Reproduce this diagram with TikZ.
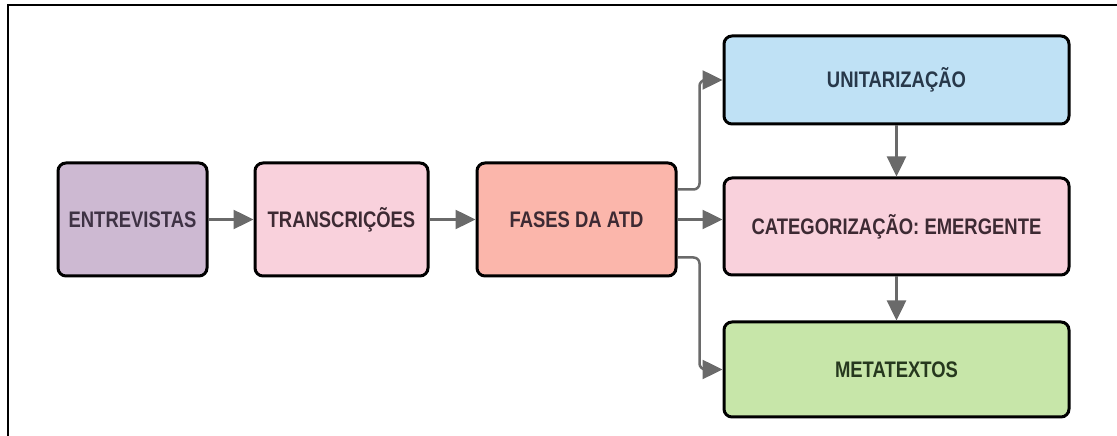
\documentclass[tikz,border=0pt]{standalone}
\usepackage{fontspec}
\setmainfont{Liberation Sans}[FakeStretch=0.82]
\usetikzlibrary{arrows.meta,positioning}

\definecolor{lilac}{HTML}{CDB9D2}
\definecolor{rosa}{HTML}{F9D1DC}
\definecolor{salmao}{HTML}{FBB6AB}
\definecolor{celeste}{HTML}{BFE1F5}
\definecolor{verde}{HTML}{C7E6A9}
\definecolor{seta}{HTML}{6A6A6A}
\definecolor{txtroxo}{HTML}{3E3244}
\definecolor{txtrosa}{HTML}{3D2A33}
\definecolor{txtazul}{HTML}{27384A}
\definecolor{txtverde}{HTML}{26381E}

\begin{document}
\begin{tikzpicture}[
x=1pt,y=1pt,
>={Triangle[length=20pt,width=19pt]},
box/.style={
	draw=black,
	line width=3pt,
	rounded corners=8pt,
	inner sep=0pt,
	font=\fontsize{22.5}{26}\selectfont\bfseries,
	text=txtrosa
},
flow/.style={
	->,
	draw=seta,
	line width=2.5pt,
	rounded corners=6pt
}
]
\useasboundingbox (0,0) rectangle (1117,436);
\draw[line width=1.5pt] (8,0) -- (8,431) -- (1117,431);

\node[box,fill=lilac,minimum width=149pt,minimum height=113pt,text=txtroxo] (entrevistas) at (132.5,216.5) {ENTREVISTAS};
\node[box,fill=rosa,minimum width=173pt,minimum height=113pt] (transcricoes) at (341.5,216.5) {TRANSCRIÇÕES};
\node[box,fill=salmao,minimum width=199pt,minimum height=113pt] (fases) at (576.5,216.5) {FASES DA ATD};

\node[box,fill=celeste,minimum width=345pt,minimum height=88pt,text=txtazul] (unit) at (896.5,356) {UNITARIZAÇÃO};
\node[box,fill=rosa,minimum width=345pt,minimum height=97pt] (categ) at (896.5,209.5) {CATEGORIZAÇÃO: EMERGENTE};
\node[box,fill=verde,minimum width=345pt,minimum height=95pt,text=txtverde] (meta) at (896.5,66.5) {METATEXTOS};

\draw[flow] (entrevistas) -- (transcricoes);
\draw[flow] (transcricoes) -- (fases);
\draw[flow] (fases.east) -- (fases.east -| categ.west);
\draw[flow] ([yshift=30pt]fases.east) -- ++(22,0) |- (unit.west);
\draw[flow] ([yshift=-38pt]fases.east) -- ++(22,0) |- (meta.west);
\draw[flow] (unit) -- (categ);
\draw[flow] (categ) -- (meta);
\end{tikzpicture}
\end{document}
